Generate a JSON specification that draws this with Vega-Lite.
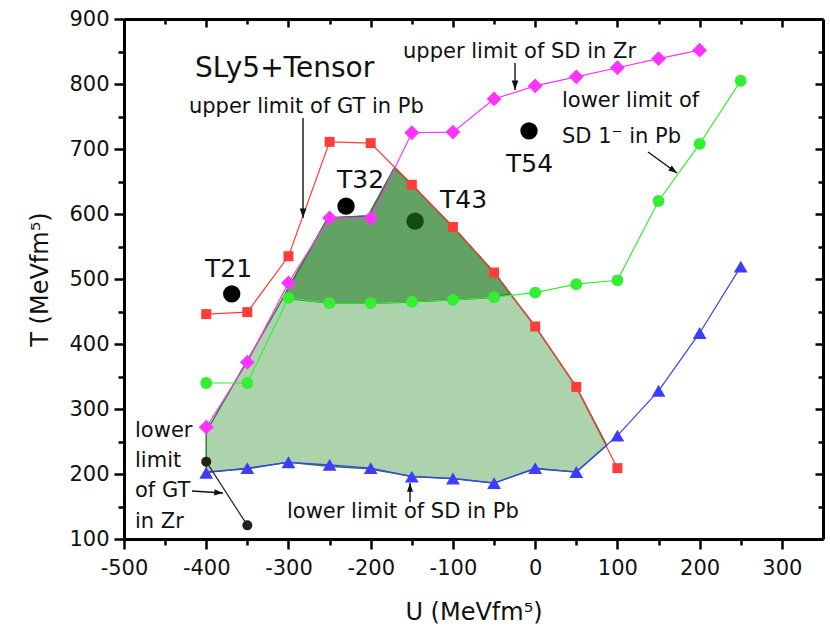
{
  "$schema": "https://vega.github.io/schema/vega-lite/v6.json",
  "width": 699,
  "height": 520,
  "autosize": {"type": "none"},
  "padding": {"left": 124, "top": 19, "right": 7, "bottom": 93},
  "background": "white",
  "config": {"view": {"stroke": null}, "font": "DejaVu Sans"},
  "datasets": {
    "region": [
      {"u": -400, "lo": 203, "hi": 265},
      {"u": -350, "lo": 208, "hi": 375},
      {"u": -307, "lo": 217, "hi": 470},
      {"u": -300, "lo": 218, "hi": 486},
      {"u": -252, "lo": 212, "hi": 594},
      {"u": -203, "lo": 208, "hi": 597},
      {"u": -171, "lo": 201, "hi": 671},
      {"u": -150, "lo": 196, "hi": 645},
      {"u": -100, "lo": 193, "hi": 580},
      {"u": -50, "lo": 186, "hi": 510},
      {"u": 0, "lo": 208, "hi": 427},
      {"u": 50, "lo": 203, "hi": 334},
      {"u": 87, "lo": 244, "hi": 244}
    ],
    "upper": [
      {"u": -307, "lo": 470, "hi": 470},
      {"u": -300, "lo": 470, "hi": 486},
      {"u": -252, "lo": 463, "hi": 594},
      {"u": -203, "lo": 463, "hi": 597},
      {"u": -171, "lo": 464, "hi": 671},
      {"u": -150, "lo": 465, "hi": 645},
      {"u": -100, "lo": 468, "hi": 580},
      {"u": -50, "lo": 472, "hi": 510},
      {"u": -30, "lo": 477, "hi": 477}
    ],
    "curves": [
      {"series": "GT Pb", "u": -400, "t": 446},
      {"series": "GT Pb", "u": -350, "t": 449},
      {"series": "GT Pb", "u": -300, "t": 535},
      {"series": "GT Pb", "u": -250, "t": 711},
      {"series": "GT Pb", "u": -200, "t": 709},
      {"series": "GT Pb", "u": -150, "t": 645},
      {"series": "GT Pb", "u": -100, "t": 580},
      {"series": "GT Pb", "u": -50, "t": 510},
      {"series": "GT Pb", "u": 0, "t": 427},
      {"series": "GT Pb", "u": 50, "t": 334},
      {"series": "GT Pb", "u": 100, "t": 209},
      {"series": "SD Zr", "u": -400, "t": 272},
      {"series": "SD Zr", "u": -350, "t": 372},
      {"series": "SD Zr", "u": -300, "t": 494},
      {"series": "SD Zr", "u": -250, "t": 594},
      {"series": "SD Zr", "u": -200, "t": 594},
      {"series": "SD Zr", "u": -150, "t": 725},
      {"series": "SD Zr", "u": -100, "t": 726},
      {"series": "SD Zr", "u": -50, "t": 777},
      {"series": "SD Zr", "u": 0, "t": 797},
      {"series": "SD Zr", "u": 50, "t": 811},
      {"series": "SD Zr", "u": 100, "t": 825},
      {"series": "SD Zr", "u": 150, "t": 839},
      {"series": "SD Zr", "u": 200, "t": 852},
      {"series": "SD1 Pb", "u": -400, "t": 340},
      {"series": "SD1 Pb", "u": -350, "t": 340},
      {"series": "SD1 Pb", "u": -300, "t": 471},
      {"series": "SD1 Pb", "u": -250, "t": 463},
      {"series": "SD1 Pb", "u": -200, "t": 463},
      {"series": "SD1 Pb", "u": -150, "t": 465},
      {"series": "SD1 Pb", "u": -100, "t": 468},
      {"series": "SD1 Pb", "u": -50, "t": 472},
      {"series": "SD1 Pb", "u": 0, "t": 479},
      {"series": "SD1 Pb", "u": 50, "t": 492},
      {"series": "SD1 Pb", "u": 100, "t": 498},
      {"series": "SD1 Pb", "u": 150, "t": 620},
      {"series": "SD1 Pb", "u": 200, "t": 708},
      {"series": "SD1 Pb", "u": 250, "t": 805},
      {"series": "SD Pb", "u": -400, "t": 202},
      {"series": "SD Pb", "u": -350, "t": 209},
      {"series": "SD Pb", "u": -300, "t": 218},
      {"series": "SD Pb", "u": -250, "t": 214},
      {"series": "SD Pb", "u": -200, "t": 209},
      {"series": "SD Pb", "u": -150, "t": 196},
      {"series": "SD Pb", "u": -100, "t": 193},
      {"series": "SD Pb", "u": -50, "t": 186},
      {"series": "SD Pb", "u": 0, "t": 209},
      {"series": "SD Pb", "u": 50, "t": 203},
      {"series": "SD Pb", "u": 100, "t": 259},
      {"series": "SD Pb", "u": 150, "t": 328},
      {"series": "SD Pb", "u": 200, "t": 417},
      {"series": "SD Pb", "u": 250, "t": 519},
      {"series": "GT Zr", "u": -400, "t": 219},
      {"series": "GT Zr", "u": -350, "t": 121}
    ],
    "tdots": [
      {"name": "T21", "u": -369, "t": 477},
      {"name": "T32", "u": -230, "t": 612},
      {"name": "T43", "u": -146, "t": 589},
      {"name": "T54", "u": -7.5, "t": 728}
    ],
    "tlabels": [
      {"label": "T21", "u": -401.5, "t": 503},
      {"label": "T32", "u": -241, "t": 640},
      {"label": "T43", "u": -115.7, "t": 609},
      {"label": "T54", "u": -35.5, "t": 664.6}
    ],
    "notes": [
      {"label": "upper limit of GT in Pb", "u": -421, "t": 755.4},
      {"label": "upper limit of SD in Zr", "u": -160.7, "t": 840},
      {"label": "lower limit of", "u": 32.6, "t": 764.6},
      {"label": "SD 1⁻ in Pb", "u": 32.6, "t": 709},
      {"label": "lower limit of SD in Pb", "u": -301.8, "t": 132.3},
      {"label": "lower", "u": -486.6, "t": 256.9},
      {"label": "limit", "u": -486.6, "t": 210.8},
      {"label": "of GT", "u": -486.6, "t": 164.6},
      {"label": "in Zr", "u": -486.6, "t": 116.9}
    ],
    "arrows": [
      {"name": "GT Pb", "u1": -282.3, "t1": 747.7, "u2": -282.3, "t2": 593.8},
      {"name": "SD Zr", "u1": -24.5, "t1": 832.3, "u2": -24.5, "t2": 790.8},
      {"name": "SD1 Pb", "u1": 137.2, "t1": 695.4, "u2": 172.5, "t2": 663},
      {"name": "SD Pb", "u1": -152.2, "t1": 156.9, "u2": -152.2, "t2": 186.2},
      {"name": "GT Zr", "u1": -417.3, "t1": 173.8, "u2": -379.6, "t2": 170.8}
    ]
  },
  "layer": [
    {
      "data": {"name": "region"},
      "mark": {"type": "area", "fill": "#acd3ac", "stroke": "#2e7d32", "strokeWidth": 1.5},
      "encoding": {
        "x": {
          "field": "u", "type": "quantitative",
          "scale": {"domain": [-500, 350], "nice": false, "zero": false},
          "axis": {
            "orient": "bottom",
            "values": [-500, -450, -400, -350, -300, -250, -200, -150, -100, -50, 0, 50, 100, 150, 200, 250, 300],
            "labelExpr": "datum.value % 100 === 0 ? '' + datum.value : ''",
            "grid": false,
            "domainColor": "black", "domainWidth": 3,
            "tickColor": "black", "tickWidth": 2.5,
            "tickSize": {"condition": {"test": "datum.value % 100 === 0", "value": 10}, "value": 6},
            "labelFont": "DejaVu Sans", "labelFontSize": 21, "labelColor": "#111", "labelPadding": 8, "labelFlush": false, "labelOverlap": false,
            "title": "U (MeVfm⁵)", "titleFont": "DejaVu Sans", "titleFontSize": 24, "titleFontWeight": "normal", "titleColor": "#111", "titlePadding": 22
          }
        },
        "y": {
          "field": "lo", "type": "quantitative",
          "scale": {"domain": [100, 900], "nice": false, "zero": false},
          "axis": {
            "orient": "left",
            "values": [100, 150, 200, 250, 300, 350, 400, 450, 500, 550, 600, 650, 700, 750, 800, 850, 900],
            "labelExpr": "datum.value % 100 === 0 ? '' + datum.value : ''",
            "grid": false,
            "domainColor": "black", "domainWidth": 3,
            "tickColor": "black", "tickWidth": 2.5,
            "tickSize": {"condition": {"test": "datum.value % 100 === 0", "value": 10}, "value": 6},
            "labelFont": "DejaVu Sans", "labelFontSize": 21, "labelColor": "#111", "labelPadding": 5, "labelFlush": false, "labelOverlap": false,
            "title": "T (MeVfm⁵)", "titleFont": "DejaVu Sans", "titleFontSize": 24, "titleFontWeight": "normal", "titleColor": "#111", "titlePadding": 16
          }
        },
        "y2": {"field": "hi"}
      }
    },
    {
      "data": {"name": "upper"},
      "mark": {"type": "area", "fill": "#62a262", "stroke": "#2e7d32", "strokeWidth": 1.5},
      "encoding": {
        "x": {"field": "u", "type": "quantitative", "axis": null},
        "y": {"field": "lo", "type": "quantitative", "axis": null},
        "y2": {"field": "hi"}
      }
    },
    {
      "data": {"name": "curves"},
      "mark": {"type": "line", "strokeWidth": 1.2},
      "encoding": {
        "x": {
          "field": "u", "type": "quantitative",
          "axis": {
            "orient": "top",
            "values": [-500, -450, -400, -350, -300, -250, -200, -150, -100, -50, 0, 50, 100, 150, 200, 250, 300],
            "labels": false, "title": null, "grid": false,
            "domainColor": "black", "domainWidth": 3,
            "tickColor": "black", "tickWidth": 2.5,
            "tickSize": {"condition": {"test": "datum.value % 100 === 0", "value": -8}, "value": -5}
          }
        },
        "y": {
          "field": "t", "type": "quantitative",
          "axis": {
            "orient": "right",
            "values": [100, 150, 200, 250, 300, 350, 400, 450, 500, 550, 600, 650, 700, 750, 800, 850, 900],
            "labels": false, "title": null, "grid": false,
            "domainColor": "black", "domainWidth": 3,
            "tickColor": "black", "tickWidth": 2.5,
            "tickSize": {"condition": {"test": "datum.value % 100 === 0", "value": -8}, "value": -5}
          }
        },
        "color": {
          "field": "series", "type": "nominal", "legend": null,
          "scale": {"domain": ["GT Pb", "SD Zr", "SD1 Pb", "SD Pb", "GT Zr"], "range": ["#ff3b3b", "#ff33ff", "#33ee33", "#3d3dff", "#222222"]}
        },
        "detail": {"field": "series"}
      }
    },
    {
      "data": {"name": "curves"},
      "mark": {"type": "point", "filled": true, "opacity": 1},
      "encoding": {
        "x": {"field": "u", "type": "quantitative", "axis": null},
        "y": {"field": "t", "type": "quantitative", "axis": null},
        "color": {
          "field": "series", "type": "nominal", "legend": null,
          "scale": {"domain": ["GT Pb", "SD Zr", "SD1 Pb", "SD Pb", "GT Zr"], "range": ["#ff0000", "#ff00ff", "#11ee11", "#0000ff", "#000000"]}
        },
        "shape": {
          "field": "series", "type": "nominal", "legend": null,
          "scale": {"domain": ["GT Pb", "SD Zr", "SD1 Pb", "SD Pb", "GT Zr"], "range": ["square", "diamond", "circle", "triangle-up", "circle"]}
        },
        "size": {
          "field": "series", "type": "nominal", "legend": null,
          "scale": {"type": "ordinal", "domain": ["GT Pb", "SD Zr", "SD1 Pb", "SD Pb", "GT Zr"], "range": [100, 220, 140, 190, 100]}
        }
      }
    },
    {
      "data": {"name": "tdots"},
      "mark": {"type": "point", "filled": true, "opacity": 1, "size": 300, "shape": "circle"},
      "encoding": {
        "x": {"field": "u", "type": "quantitative", "axis": null},
        "y": {"field": "t", "type": "quantitative", "axis": null},
        "color": {"condition": {"test": "datum.name === 'T43'", "value": "#154a15"}, "value": "#000000"}
      }
    },
    {
      "data": {"name": "arrows"},
      "mark": {"type": "rule", "color": "#111", "strokeWidth": 1.4},
      "encoding": {
        "x": {"field": "u1", "type": "quantitative", "axis": null},
        "y": {"field": "t1", "type": "quantitative", "axis": null},
        "x2": {"field": "u2"},
        "y2": {"field": "t2"}
      }
    },
    {
      "data": {"name": "arrows"},
      "transform": [{"filter": "datum.name === 'GT Pb' || datum.name === 'SD Zr'"}],
      "mark": {"type": "point", "shape": "M0,0L-0.35,1L0.35,1Z", "filled": true, "color": "#111", "opacity": 1, "size": 360, "angle": 180},
      "encoding": {
        "x": {"field": "u2", "type": "quantitative", "axis": null},
        "y": {"field": "t2", "type": "quantitative", "axis": null}
      }
    },
    {
      "data": {"name": "arrows"},
      "transform": [{"filter": "datum.name === 'SD Pb'"}],
      "mark": {"type": "point", "shape": "M0,0L-0.35,1L0.35,1Z", "filled": true, "color": "#111", "opacity": 1, "size": 300, "angle": 0},
      "encoding": {
        "x": {"field": "u2", "type": "quantitative", "axis": null},
        "y": {"field": "t2", "type": "quantitative", "axis": null}
      }
    },
    {
      "data": {"name": "arrows"},
      "transform": [{"filter": "datum.name === 'SD1 Pb'"}],
      "mark": {"type": "point", "shape": "M0,0L-0.35,1L0.35,1Z", "filled": true, "color": "#111", "opacity": 1, "size": 300, "angle": 126},
      "encoding": {
        "x": {"field": "u2", "type": "quantitative", "axis": null},
        "y": {"field": "t2", "type": "quantitative", "axis": null}
      }
    },
    {
      "data": {"name": "arrows"},
      "transform": [{"filter": "datum.name === 'GT Zr'"}],
      "mark": {"type": "point", "shape": "M0,0L-0.35,1L0.35,1Z", "filled": true, "color": "#111", "opacity": 1, "size": 300, "angle": 94},
      "encoding": {
        "x": {"field": "u2", "type": "quantitative", "axis": null},
        "y": {"field": "t2", "type": "quantitative", "axis": null}
      }
    },
    {
      "data": {"name": "notes"},
      "mark": {"type": "text", "align": "left", "baseline": "alphabetic", "font": "DejaVu Sans", "fontSize": 21, "color": "#111"},
      "encoding": {
        "x": {"field": "u", "type": "quantitative", "axis": null},
        "y": {"field": "t", "type": "quantitative", "axis": null},
        "text": {"field": "label"}
      }
    },
    {
      "data": {"name": "tlabels"},
      "mark": {"type": "text", "align": "left", "baseline": "alphabetic", "font": "DejaVu Sans", "fontSize": 25, "color": "#111"},
      "encoding": {
        "x": {"field": "u", "type": "quantitative", "axis": null},
        "y": {"field": "t", "type": "quantitative", "axis": null},
        "text": {"field": "label"}
      }
    },
    {
      "data": {"values": [{"label": "SLy5+Tensor", "u": -413.7, "t": 811}]},
      "mark": {"type": "text", "align": "left", "baseline": "alphabetic", "font": "DejaVu Sans", "fontSize": 28, "color": "#111"},
      "encoding": {
        "x": {"field": "u", "type": "quantitative", "axis": null},
        "y": {"field": "t", "type": "quantitative", "axis": null},
        "text": {"field": "label"}
      }
    }
  ]
}
